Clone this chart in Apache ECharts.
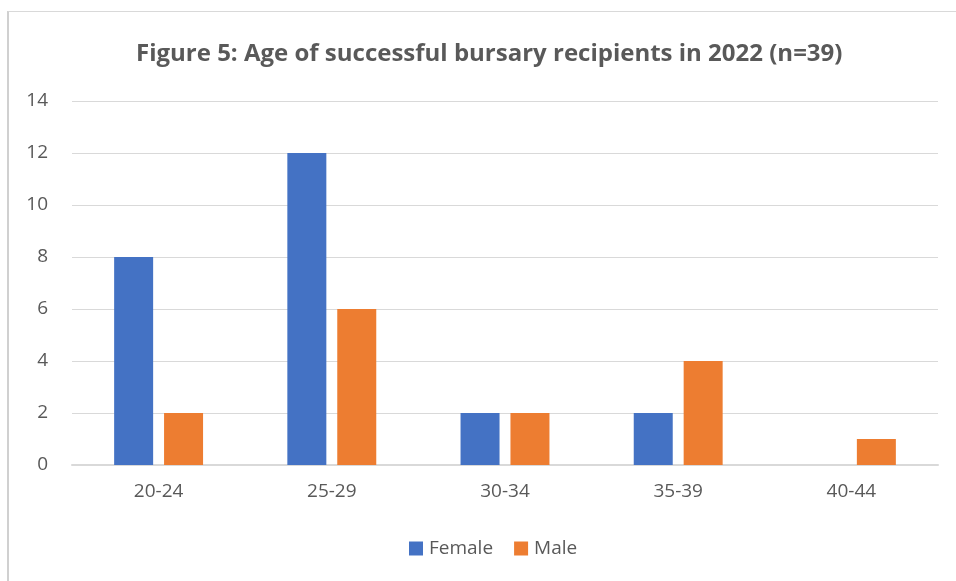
<!DOCTYPE html>
<html>
<head>
<meta charset="utf-8">
<script src="https://cdn.jsdelivr.net/npm/echarts@6/dist/echarts.min.js"></script>
<style>
  html, body { margin: 0; padding: 0; background: #fff; }
  #frame {
    position: absolute; left: 7px; top: 11px; width: 1000px; height: 700px;
    border-top: 1px solid #d9d9d9; border-left: 2px solid #d0d0d0;
  }
  #chart { position: absolute; left: 0; top: 0; width: 956px; height: 581px; }
</style>
</head>
<body>
<div id="frame"></div>
<div id="chart"></div>
<script>
const categories = ['20-24', '25-29', '30-34', '35-39', '40-44'];
const female = [8, 12, 2, 2, 0];
const male = [2, 6, 2, 4, 1];
const titleText = 'Figure 5: Age of successful bursary recipients in 2022 (n=39)';

const myChart = echarts.init(document.getElementById('chart'));
const textColor = '#595959';
const font = 'Open Sans';

const option = {
    animation: false,
    title: {
        text: titleText,
        left: 131,
        top: 37,
        textStyle: { fontFamily: font, fontSize: 24, fontWeight: 'bold', color: textColor }
    },
    grid: { left: 72, right: 18, top: 101, bottom: 116 },
    legend: {
        bottom: 18,
        left: 404,
        itemWidth: 14,
        itemHeight: 14,
        itemGap: 21,
        icon: 'rect',
        textStyle: { fontFamily: font, fontSize: 19, color: textColor, padding: [0, 0, 0, 1] },
        data: ['Female', 'Male']
    },
    xAxis: {
        type: 'category',
        data: categories,
        axisLine: { lineStyle: { color: '#d9d9d9', width: 2 } },
        axisTick: { show: false },
        axisLabel: { fontFamily: font, fontSize: 19, color: textColor, margin: 17 }
    },
    yAxis: {
        type: 'value',
        min: 0,
        max: 14,
        interval: 2,
        axisLine: { show: false },
        axisTick: { show: false },
        splitLine: { lineStyle: { color: '#d9d9d9', width: 1 } },
        axisLabel: { fontFamily: font, fontSize: 19, color: textColor, margin: 24 }
    },
    series: [
        {
            name: 'Female',
            type: 'bar',
            data: female,
            barWidth: 39,
            barGap: '28%',
            itemStyle: { color: '#4472C4' }
        },
        {
            name: 'Male',
            type: 'bar',
            data: male,
            barWidth: 39,
            itemStyle: { color: '#ED7D31' }
        }
    ]
};

myChart.setOption(option);
</script>
</body>
</html>
